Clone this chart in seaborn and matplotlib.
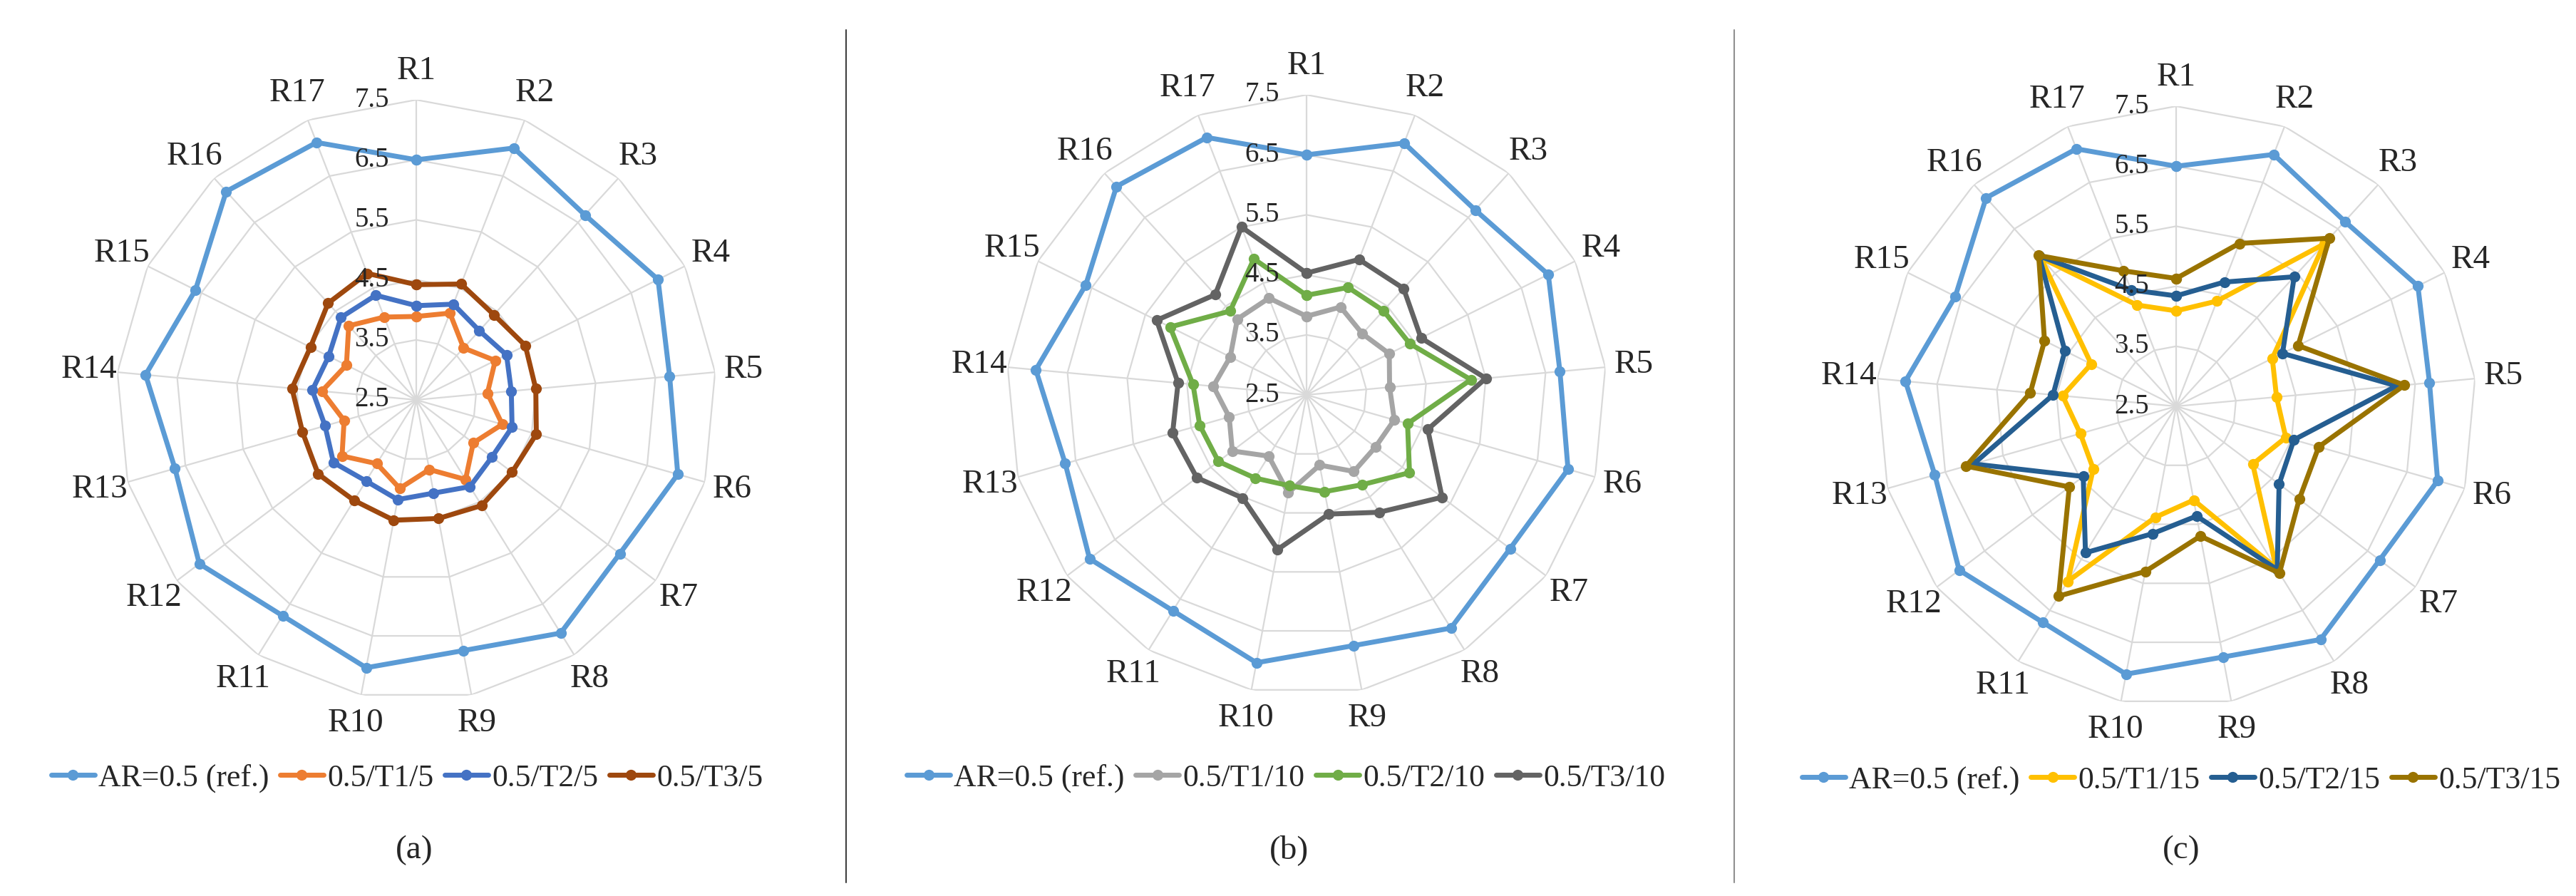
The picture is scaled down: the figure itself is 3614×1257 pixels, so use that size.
import numpy as np
import matplotlib
matplotlib.use('Agg')
import matplotlib.pyplot as plt
from matplotlib.lines import Line2D
from matplotlib.transforms import offset_copy
import seaborn as sns

# categories and radial ticks
regions = [f'R{i}' for i in range(1, 18)]
r_ticks = [2.5, 3.5, 4.5, 5.5, 6.5, 7.5]

# reference series (same on all three panels)
ar_ref = [6.5, 7.0, 6.67, 7.0, 6.74, 7.03, 6.75, 7.07, 6.75, 7.04, 6.73, 7.03, 6.68, 7.03, 6.61, 7.2, 7.1]

# panel (a)
a_t1 = [3.89, 4.05, 3.67, 3.97, 3.69, 3.99, 3.69, 4.06, 3.68, 4.0, 3.75, 4.05, 3.75, 4.08, 3.8, 4.17, 3.98]
a_t2 = [4.07, 4.21, 4.06, 4.18, 4.09, 4.16, 4.08, 4.2, 4.08, 4.19, 4.09, 4.23, 4.08, 4.24, 4.13, 4.36, 4.37]
a_t3 = [4.42, 4.57, 4.42, 4.53, 4.5, 4.58, 4.5, 4.57, 4.51, 4.54, 4.47, 4.55, 4.47, 4.58, 4.47, 4.68, 4.76]

# panel (b)
b_t1 = [3.81, 4.07, 3.88, 4.04, 3.89, 4.02, 3.94, 4.0, 3.69, 4.16, 3.7, 4.05, 3.84, 4.06, 3.92, 4.21, 4.23]
b_t2 = [4.16, 4.42, 4.4, 4.42, 5.25, 4.25, 4.65, 4.26, 4.14, 4.04, 4.13, 4.34, 4.35, 4.4, 5.04, 4.39, 4.93]
b_t3 = [4.53, 4.92, 4.9, 4.63, 5.5, 4.6, 5.33, 4.8, 4.52, 5.12, 4.52, 4.79, 4.82, 4.65, 5.29, 4.76, 5.5]

# panel (c)
c_t1 = [4.09, 4.38, 6.16, 4.29, 4.18, 4.4, 4.1, 5.67, 4.09, 4.38, 5.93, 4.23, 4.16, 4.4, 4.08, 5.85, 4.31]
c_t2 = [4.34, 4.72, 5.42, 4.48, 6.19, 4.54, 4.65, 5.7, 4.36, 4.66, 5.37, 4.44, 6.01, 4.56, 4.57, 5.89, 4.58]
c_t3 = [4.63, 5.41, 6.29, 4.77, 6.32, 4.97, 5.07, 5.77, 4.7, 5.3, 6.22, 4.73, 6.14, 4.94, 4.95, 5.9, 4.92]

panels = [
    ('(a)', [('AR=0.5 (ref.)', ar_ref, '#5B9BD5'), ('0.5/T1/5', a_t1, '#ED7D31'),
             ('0.5/T2/5', a_t2, '#4472C4'), ('0.5/T3/5', a_t3, '#9E480E')]),
    ('(b)', [('AR=0.5 (ref.)', ar_ref, '#5B9BD5'), ('0.5/T1/10', b_t1, '#A5A5A5'),
             ('0.5/T2/10', b_t2, '#70AD47'), ('0.5/T3/10', b_t3, '#636363')]),
    ('(c)', [('AR=0.5 (ref.)', ar_ref, '#5B9BD5'), ('0.5/T1/15', c_t1, '#FFC000'),
             ('0.5/T2/15', c_t2, '#255E91'), ('0.5/T3/15', c_t3, '#997300')]),
]

sns.set_theme(style='white')
plt.rcParams['font.family'] = ['Liberation Serif', 'DejaVu Serif']

W, H = 3614, 1257
fig = plt.figure(figsize=(W / 100, H / 100), dpi=100)

# centers (px) of the three radar plots, radius of outer ring
centers = [(584, 561), (1833, 554), (3053, 570)]
R = 421
legend_xy = [(571, 1092), (1804, 1092), (3060, 1095)]
caption_x = [581, 1809, 3060]

theta = np.arange(len(regions)) * 2 * np.pi / len(regions)
theta_closed = np.append(theta, 2 * np.pi)

for (cap, series), (cx, cy), (lx, ly), capx in zip(panels, centers, legend_xy, caption_x):
    ax = fig.add_axes([(cx - R) / W, 1 - (cy + R) / H, 2 * R / W, 2 * R / H], projection='polar')
    ax.set_theta_zero_location('N')
    ax.set_theta_direction(-1)
    ax.set_ylim(2.5, 7.5)
    ax.grid(False)
    ax.spines['polar'].set_visible(False)

    # polygon gridlines and spokes, Excel style
    for r in r_ticks[1:]:
        ax.plot(theta_closed, [r] * len(theta_closed), color='#D9D9D9', lw=1.6, zorder=0)
    for t in theta:
        ax.plot([t, t], [2.5, 7.5], color='#D9D9D9', lw=1.6, zorder=0)

    for name, vals, col in series:
        sns.lineplot(x=theta_closed, y=list(vals) + [vals[0]], ax=ax, sort=False,
                     estimator=None, color=col, lw=5, marker='o', markersize=11,
                     markeredgewidth=0, label=name, legend=False)

    ax.set_xticks(theta)
    ax.set_xticklabels(regions, fontsize=34)
    ax.tick_params(axis='x', pad=16)
    ax.set_yticks(r_ticks)
    ax.set_yticklabels([])
    ax.set_xlabel('')
    ax.set_ylabel('')
    tr = offset_copy(ax.transData, fig=fig, x=-38, y=0, units='dots')
    for r in r_ticks:
        ax.text(0, r, f'{r}', transform=tr, ha='right', va='center', fontsize=28, color='#262626')

    handles = [Line2D([], [], color=col, lw=5, marker='o', markersize=11, markeredgewidth=0)
               for _, _, col in series]
    fig.legend(handles, [s[0] for s in series], loc='center', ncol=4, frameon=False,
               bbox_to_anchor=(lx / W, 1 - ly / H), fontsize=31.5, handlelength=1.4,
               handletextpad=0.12, columnspacing=0.35)
    fig.text(capx / W, 1 - 1193 / H, cap, ha='center', va='center', fontsize=34)

# separators between panels
fig.add_artist(Line2D([1187 / W, 1187 / W], [1 - 42 / H, 1 - 1238 / H], color='#404040', lw=1.5))
fig.add_artist(Line2D([2433 / W, 2433 / W], [1 - 42 / H, 1 - 1238 / H], color='#909090', lw=1.5))

fig.savefig('out.png', dpi=100)
